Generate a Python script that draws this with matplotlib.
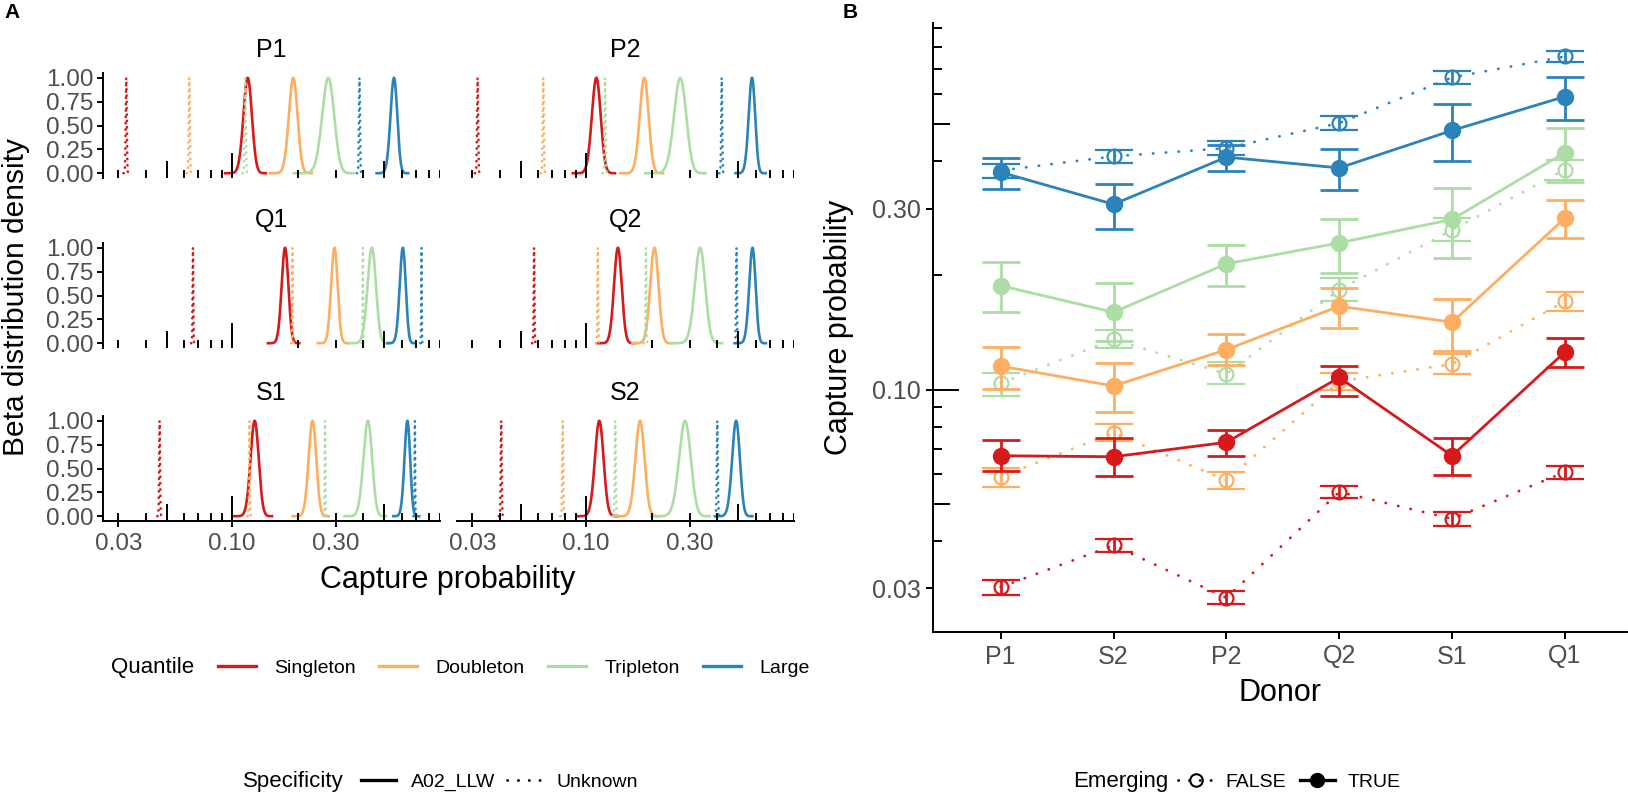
import numpy as np
import matplotlib
matplotlib.use("Agg")
import matplotlib.pyplot as plt
from matplotlib.lines import Line2D

plt.rcParams['font.family'] = ['Liberation Sans', 'DejaVu Sans']

# Quantile classes and their colours
quantiles = ["Singleton", "Doubleton", "Tripleton", "Large"]
colours = ["#D7191C", "#FDAE61", "#ABDDA4", "#2B83BA"]

# Panel A: facets and beta peak positions (rows = donor, cols = quantile)
facet_donors = ["P1", "P2", "Q1", "Q2", "S1", "S2"]
peak_llw = [
    [0.118, 0.191, 0.277, 0.553],
    [0.1115, 0.185, 0.271, 0.577],
    [0.175, 0.295, 0.438, 0.607],
    [0.140, 0.206, 0.334, 0.580],
    [0.127, 0.234, 0.420, 0.637],
    [0.115, 0.177, 0.285, 0.488],
]
peak_unknown = [
    [0.0326, 0.0635, 0.1148, 0.384],
    [0.0317, 0.0635, 0.122, 0.419],
    [0.066, 0.189, 0.398, 0.74],
    [0.0576, 0.113, 0.188, 0.490],
    [0.0464, 0.120, 0.267, 0.690],
    [0.0407, 0.078, 0.136, 0.400],
]
# beta concentration (alpha + beta) per quantile
conc_llw = [3700, 2000, 650, 630]
conc_unknown = [9e5, 4.5e5, 2.3e5, 5e4]

# Panel B: capture probability by donor
donors_b = ["P1", "S2", "P2", "Q2", "S1", "Q1"]
true_est = [
    [0.067, 0.0666, 0.0727, 0.1077, 0.067, 0.1257],
    [0.1154, 0.1023, 0.1275, 0.166, 0.1506, 0.2832],
    [0.188, 0.160, 0.2146, 0.2437, 0.281, 0.4215],
    [0.374, 0.308, 0.410, 0.384, 0.482, 0.592],
]
true_lo = [
    [0.0611, 0.0594, 0.067, 0.096, 0.0597, 0.1146],
    [0.1005, 0.0871, 0.1162, 0.1455, 0.1266, 0.2504],
    [0.160, 0.1345, 0.1876, 0.2034, 0.222, 0.353],
    [0.338, 0.265, 0.377, 0.336, 0.401, 0.515],
]
true_hi = [
    [0.0735, 0.0744, 0.0782, 0.1154, 0.0747, 0.1366],
    [0.1296, 0.1176, 0.1405, 0.1855, 0.1738, 0.317],
    [0.217, 0.191, 0.240, 0.2825, 0.340, 0.490],
    [0.407, 0.349, 0.441, 0.431, 0.565, 0.665],
]
false_est = [
    [0.0302, 0.0389, 0.0283, 0.0538, 0.0457, 0.0607],
    [0.059, 0.077, 0.0577, 0.1052, 0.1168, 0.171],
    [0.104, 0.1357, 0.110, 0.1834, 0.2636, 0.380],
    [0.378, 0.412, 0.433, 0.504, 0.665, 0.755],
]
false_lo = [
    [0.0288, 0.0373, 0.0272, 0.0517, 0.0438, 0.0583],
    [0.0555, 0.0732, 0.0547, 0.100, 0.110, 0.1615],
    [0.096, 0.1287, 0.1033, 0.171, 0.246, 0.356],
    [0.362, 0.395, 0.415, 0.484, 0.640, 0.728],
]
false_hi = [
    [0.0316, 0.0404, 0.0295, 0.0559, 0.0477, 0.0630],
    [0.0622, 0.0812, 0.0608, 0.1105, 0.124, 0.181],
    [0.111, 0.1436, 0.118, 0.197, 0.283, 0.404],
    [0.394, 0.429, 0.451, 0.525, 0.690, 0.782],
]

W, H = 1628, 795
fig = plt.figure(figsize=(W / 100, H / 100), dpi=100)
grey = "#4D4D4D"
dot_a = (0, (0.1, 2.3))
dot_b = (0, (0.1, 4.5))
dot_leg = (0, (0.1, 3.8))


def px_axes(x0, y0, w, h):
    return fig.add_axes([x0 / W, 1 - (y0 + h) / H, w / W, h / H])


def beta_curve(m, n):
    a, b = m * n, (1 - m) * n
    sd = np.sqrt(m * (1 - m) / (n + 1))
    x = np.linspace(max(m - 5 * sd, 1e-4), m + 5 * sd, 400)
    lp = (a - 1) * np.log(x) + (b - 1) * np.log1p(-x)
    return x, np.exp(lp - lp.max())


def log_positions(lo, hi):
    out = []
    for k in range(-3, 1):
        for d in range(1, 10):
            v = d * 10.0 ** k
            if lo <= v <= hi:
                out.append((v, d))
    return out


# ---------------- Panel A ----------------
xlim_a = (0.0255, 0.9)
col_x = [103, 457]
row_y = [73, 243, 416]
pw, ph = 337, 105
for i, donor in enumerate(facet_donors):
    r, c = i // 2, i % 2
    ax = px_axes(col_x[c], row_y[r], pw, ph)
    ax.set_xscale("log")
    ax.set_xlim(*xlim_a)
    ax.set_ylim(-0.05, 1.05)
    for q in range(4):
        x, y = beta_curve(peak_llw[i][q], conc_llw[q])
        ax.plot(x, y, color=colours[q], lw=1.9, solid_capstyle="butt")
        x, y = beta_curve(peak_unknown[i][q], conc_unknown[q])
        ax.plot(x, y, color=colours[q], lw=1.9, linestyle=dot_a,
                dash_capstyle="round")
    # log ticks along the bottom of every facet
    for v, d in log_positions(*xlim_a):
        ln = 0.263 if d == 1 else (0.175 if d == 5 else 0.087)
        ax.vlines(v, -0.05, -0.05 + ln, color="black", lw=1.4)
    for s in ["top", "right"]:
        ax.spines[s].set_visible(False)
    ax.spines["left"].set_visible(c == 0)
    ax.spines["bottom"].set_visible(r == 2)
    for s in ["left", "bottom"]:
        ax.spines[s].set_linewidth(1.4)
    ax.minorticks_off()
    if c == 0:
        ax.set_yticks([0, 0.25, 0.5, 0.75, 1.0])
        ax.set_yticklabels(["0.00", "0.25", "0.50", "0.75", "1.00"])
    else:
        ax.set_yticks([])
    if r == 2:
        ax.set_xticks([0.03, 0.1, 0.3])
        ax.set_xticklabels(["0.03", "0.10", "0.30"])
    else:
        ax.set_xticks([])
    ax.tick_params(labelsize=17.5, labelcolor=grey, color="black",
                   length=4.5, width=1.4, pad=2.5)
    ax.tick_params(axis="x", pad=4)
    ax.text(0.5, 1 + 23 / ph, donor, transform=ax.transAxes, ha="center",
            va="center", fontsize=18)

fig.text(16 / W, 1 - 297 / H, "Beta distribution density", rotation=90,
         ha="center", va="center", fontsize=21.5)
fig.text(448 / W, 1 - 580 / H, "Capture probability", ha="center",
         va="center", fontsize=22)
fig.text(4 / W, 1 - 12 / H, "A", fontsize=15, weight="bold", va="center")

# legends of panel A
fig.text(111 / W, 1 - 668 / H, "Quantile", fontsize=16, va="center")
qh = [Line2D([], [], color=colours[q], lw=2.4) for q in range(4)]
fig.legend(qh, quantiles, loc="center left",
           bbox_to_anchor=(218 / W, 1 - 668 / H), ncol=4, frameon=False,
           fontsize=14, handlelength=1.95, columnspacing=1.2,
           handletextpad=0.95, borderaxespad=0, borderpad=0)
fig.text(243 / W, 1 - 782 / H, "Specificity", fontsize=16, va="center")
sh = [Line2D([], [], color="black", lw=2.4),
      Line2D([], [], color="black", lw=2.0, linestyle=dot_leg,
             dash_capstyle="round")]
fig.legend(sh, ["A02_LLW", "Unknown"], loc="center left",
           bbox_to_anchor=(361 / W, 1 - 782 / H), ncol=2, frameon=False,
           fontsize=14, handlelength=1.8, columnspacing=0.6,
           handletextpad=0.75, borderaxespad=0, borderpad=0)

# ---------------- Panel B ----------------
axb = px_axes(933, 23, 694, 609)
xs = np.arange(len(donors_b))
axb.set_yscale("log")
for q in range(4):
    est = np.array(false_est[q])
    err = [est - np.array(false_lo[q]), np.array(false_hi[q]) - est]
    axb.plot(xs, est, color=colours[q], lw=2.0, linestyle=dot_b,
             dash_capstyle="round", zorder=2)
    axb.errorbar(xs, est, yerr=err, fmt="o", color=colours[q], mfc="none",
                 mec=colours[q], ms=10, mew=1.6, elinewidth=2.0,
                 capsize=14, capthick=2.0, zorder=3)
for q in range(4):
    est = np.array(true_est[q])
    err = [est - np.array(true_lo[q]), np.array(true_hi[q]) - est]
    axb.plot(xs, est, color=colours[q], lw=2.0, zorder=4)
    axb.errorbar(xs, est, yerr=err, fmt="o", color=colours[q], ms=11.5,
                 elinewidth=2.0, capsize=14, capthick=2.0, zorder=5)

ylim_b = (0.023, 0.925)
axb.set_ylim(*ylim_b)
axb.set_xlim(-0.6, len(donors_b) - 0.45)
axb.minorticks_off()
axb.set_yticks([0.03, 0.1, 0.3])
axb.set_yticklabels(["0.03", "0.10", "0.30"])
axb.set_xticks(xs)
axb.set_xticklabels(donors_b)
axb.tick_params(labelsize=18, labelcolor=grey, color="black", length=5,
                width=1.4, pad=4)
for s in ["top", "right"]:
    axb.spines[s].set_visible(False)
for s in ["left", "bottom"]:
    axb.spines[s].set_linewidth(1.4)
trans = axb.get_yaxis_transform()
for v, d in log_positions(*ylim_b):
    if d == 3:
        continue
    ln = 0.0375 if d == 1 else (0.025 if d == 5 else 0.013)
    axb.hlines(v, 0, ln, transform=trans, color="black", lw=1.4)
fig.text(839 / W, 1 - 327 / H, "Capture probability", rotation=90,
         ha="center", va="center", fontsize=22)
fig.text(1280 / W, 1 - 693 / H, "Donor", ha="center", va="center",
         fontsize=22)
fig.text(843 / W, 1 - 12 / H, "B", fontsize=15, weight="bold", va="center")

fig.text(1073 / W, 1 - 782 / H, "Emerging", fontsize=16, va="center")
eh = [Line2D([], [], color="black", lw=2.0, linestyle=dot_leg,
             dash_capstyle="round", marker="o", mfc="none", ms=9, mew=1.5),
      Line2D([], [], color="black", lw=2.4, marker="o", ms=10)]
fig.legend(eh, ["FALSE", "TRUE"], loc="center left",
           bbox_to_anchor=(1178 / W, 1 - 782 / H), ncol=2, frameon=False,
           fontsize=14, handlelength=1.8, columnspacing=0.7,
           handletextpad=0.65, borderaxespad=0, borderpad=0)

fig.savefig("out.png", dpi=100)
